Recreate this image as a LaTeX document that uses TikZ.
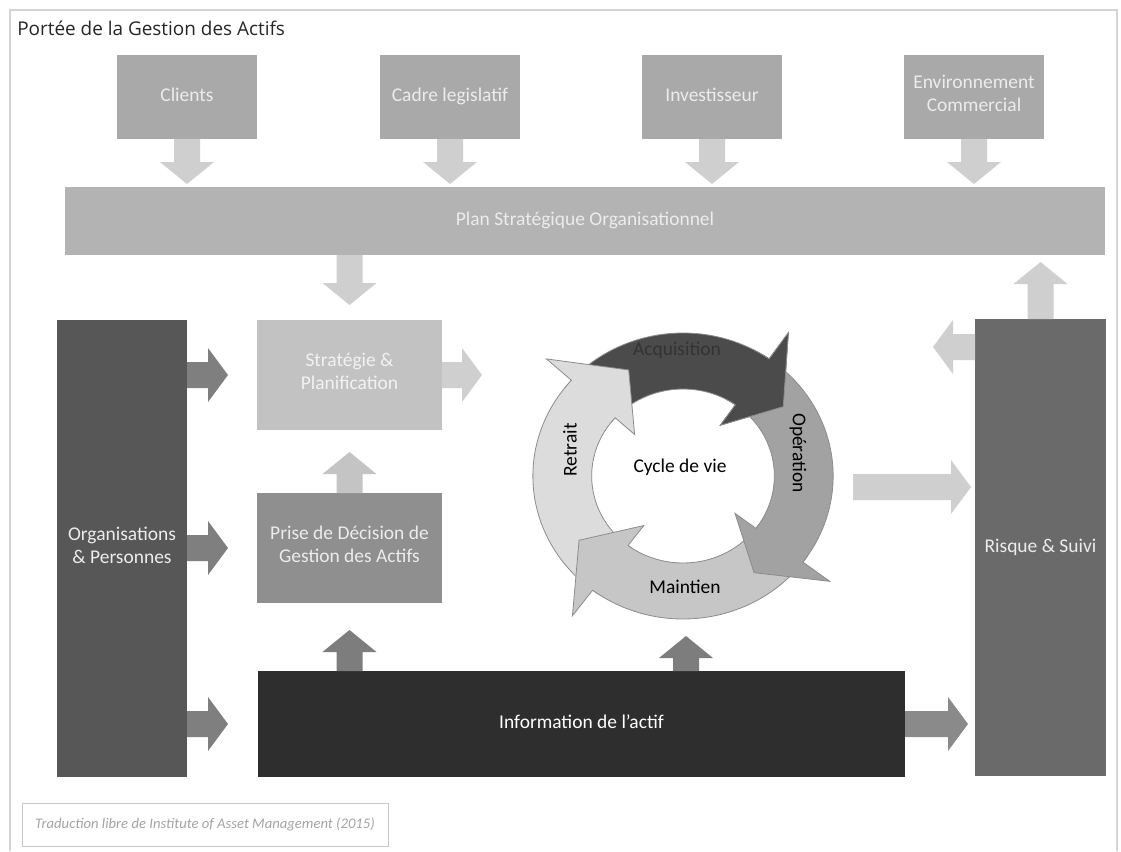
\documentclass[tikz,border=0pt]{standalone}
\usepackage{fontspec}
\setmainfont{Carlito}
\newfontfamily\titlefont{Open Sans}
\usetikzlibrary{calc}
\definecolor{frameC}{HTML}{D4D4D4}
\definecolor{topC}{HTML}{A9A9A9}
\definecolor{planC}{HTML}{B3B3B3}
\definecolor{lightArr}{HTML}{CFCFCF}
\definecolor{stratC}{HTML}{C2C2C2}
\definecolor{priseC}{HTML}{8F8F8F}
\definecolor{priseArr}{HTML}{C4C4C4}
\definecolor{orgC}{HTML}{575757}
\definecolor{orgArr}{HTML}{7F7F7F}
\definecolor{infoC}{HTML}{2E2E2E}
\definecolor{infoArr}{HTML}{7D7D7D}
\definecolor{infoRArr}{HTML}{8A8A8A}
\definecolor{risqueC}{HTML}{6A6A6A}
\definecolor{boxText}{HTML}{ECECEC}
\definecolor{cA}{HTML}{4B4B4B}
\definecolor{cO}{HTML}{A2A2A2}
\definecolor{cM}{HTML}{C6C6C6}
\definecolor{cR}{HTML}{DCDCDC}
\definecolor{cLine}{HTML}{8C8C8C}
\definecolor{fnBorder}{HTML}{C8C8C8}
\definecolor{fnText}{HTML}{A4A4A4}
\newcommand{\cRo}{143}
\newcommand{\cRi}{87}
\newcommand{\cRho}{175}
\newcommand{\cRhi}{62}
\newcommand{\cRt}{118}
% vertical block arrow: colour, from, to
\newcommand{\varr}[3]{%
  \fill[#1] let \p1=(#2), \p2=(#3), \n1={sign(\y2-\y1)} in
   (\x1-9.75pt,\y1) -- (\x1-9.75pt,\y2-\n1*16.5pt) -- (\x1-20.25pt,\y2-\n1*16.5pt)
   -- (\x1,\y2) -- (\x1+20.25pt,\y2-\n1*16.5pt) -- (\x1+9.75pt,\y2-\n1*16.5pt)
   -- (\x1+9.75pt,\y1) -- cycle;}
% horizontal block arrow: colour, from, to
\newcommand{\harr}[3]{%
  \fill[#1] let \p1=(#2), \p2=(#3), \n1={sign(\x2-\x1)} in
   (\x1,\y1-9.75pt) -- (\x2-\n1*15pt,\y1-9.75pt) -- (\x2-\n1*15pt,\y1-20.25pt)
   -- (\x2,\y1) -- (\x2-\n1*15pt,\y1+20.25pt) -- (\x2-\n1*15pt,\y1+9.75pt)
   -- (\x1,\y1+9.75pt) -- cycle;}
% cycle arrow: tail angle, head base angle, tip angle, colour
\newcommand{\cycarr}[4]{%
  \filldraw[cycline, fill=#4] (#1:\cRo) arc[start angle=#1, end angle=#2, radius=\cRo]
   -- (#2:\cRho) -- (#3:\cRt) -- (#2:\cRhi) -- (#2:\cRi)
   arc[start angle=#2, end angle=#1, radius=\cRi] -- cycle;}
\begin{document}
\begin{tikzpicture}[x=0.75pt,y=-0.75pt,
  box/.style={rectangle, inner sep=0pt, outer sep=0pt, align=center,
    font=\fontsize{14.6}{17.5}\selectfont, text=boxText,
    execute at begin node=\strut, execute at end node=\strut},
  topbox/.style={box, fill=topC, minimum width=105pt, minimum height=63pt},
  midbox/.style={box, minimum width=138.75pt, minimum height=82.5pt},
  tallbox/.style={box, minimum width=97.5pt, minimum height=342.75pt},
  cyctext/.style={font=\fontsize{14.6}{17.5}\selectfont, text=black, inner sep=0pt},
  cycline/.style={draw=cLine, line width=0.6pt, line join=miter}]
\useasboundingbox (0,0) rectangle (1121,851);
\fill[white] (0,0) rectangle (1121,851);
\draw[frameC, line width=0.8pt] (10,851) -- (10,10) -- (1117,10) -- (1117,851);
\node[anchor=west, inner sep=0pt, font=\titlefont\fontsize{14.2}{17}\selectfont, text=black!85] (title) at (17,28) {Portée de la Gestion des Actifs};

% top boxes
\node[topbox] (clients) at (187,97) {Clients};
\node[topbox] (cadre) at (450,97) {Cadre legislatif};
\node[topbox] (invest) at (712,97) {Investisseur};
\node[topbox] (env) at (974,97) {Environnement\\Commercial};
\node[box, fill=planC, minimum width=780pt, minimum height=51pt] (plan) at (585,221) {Plan Stratégique Organisationnel};

\foreach \bx in {clients,cadre,invest,env}{
  \varr{lightArr}{\bx.south}{$(\bx.south |- plan.north)+(0,-3)$}
}

% middle column
\node[midbox, fill=stratC, text=white!95!black] (strat) at (349.5,375) {Stratégie \&\\Planification};
\node[midbox, fill=priseC] (prise) at (349.5,548) {Prise de Décision de\\Gestion des Actifs};
\node[tallbox, fill=orgC] (org) at (122,548.5) {Organisations\\\& Personnes};
\node[box, fill=infoC, text=white, minimum width=485.25pt, minimum height=79.5pt] (info) at (581.5,724) {Information de l’actif};
\node[box, fill=risqueC, minimum width=98.25pt, minimum height=342.75pt] (risque) at (1040.5,547.5) {Risque \& Suivi};

% named free ends
\coordinate (stratOut) at (482,375);
\coordinate (cycIn) at (686,636);
\coordinate (cycOut) at (853,487);
\coordinate (risqueOut) at (933,347);

\varr{lightArr}{strat.north |- plan.south}{$(strat.north)+(0,-15)$}
\harr{lightArr}{strat.east}{stratOut}
\varr{priseArr}{prise.north}{$(strat.south)+(0,22)$}
\varr{infoArr}{prise.south |- info.north}{$(prise.south)+(0,27)$}
\varr{infoArr}{cycIn |- info.north}{cycIn}
\harr{orgArr}{org.east |- strat}{$(org.east |- strat)+(41,0)$}
\harr{orgArr}{org.east |- prise}{$(org.east |- prise)+(41,0)$}
\harr{orgArr}{org.east |- info}{$(org.east |- info)+(41,0)$}
\harr{lightArr}{cycOut}{$(risque.west |- cycOut)+(-4,0)$}
\harr{infoRArr}{info.east}{$(risque.west |- info)+(-7,0)$}
\varr{lightArr}{risque.north}{$(risque.north |- plan.south)+(0,7)$}
\harr{lightArr}{risque.west |- risqueOut}{risqueOut}

% life cycle
\begin{scope}[shift={(683,476)}, yscale=-1, xscale=1.05]
  \cycarr{142}{55}{36}{cA}
  \cycarr{-124}{-222}{-244}{cR}
  \cycarr{-34}{-127}{-147}{cM}
  \cycarr{58}{-37}{-55}{cO}
  \fill[cA] (62:\cRo) arc[start angle=62, end angle=55, radius=\cRo] -- (55:\cRho) -- (36:\cRt)
    -- (55:\cRhi) -- (55:\cRi) arc[start angle=55, end angle=62, radius=\cRi] -- cycle;
  \draw[cycline] (62:\cRo) arc[start angle=62, end angle=55, radius=\cRo] -- (55:\cRho) -- (36:\cRt)
    -- (55:\cRhi) -- (55:\cRi) arc[start angle=55, end angle=62, radius=\cRi];
\end{scope}
\node[cyctext] (cyc) at (680,467) {Cycle de vie};
\node[cyctext, text=black!80] (acq) at (677,350) {Acquisition};
\node[cyctext, rotate=-90] (ope) at (798,453) {Opération};
\node[cyctext] (mai) at (685,587) {Maintien};
\node[cyctext, rotate=90] (ret) at (570,450) {Retrait};

% source
\node[draw=fnBorder, line width=0.6pt, minimum width=274.5pt, minimum height=32.25pt, inner sep=0pt,
  font=\itshape\fontsize{11}{13}\selectfont, text=fnText] (src) at (205,824.5)
  {Traduction libre de Institute of Asset Management (2015)};
\end{tikzpicture}
\end{document}
